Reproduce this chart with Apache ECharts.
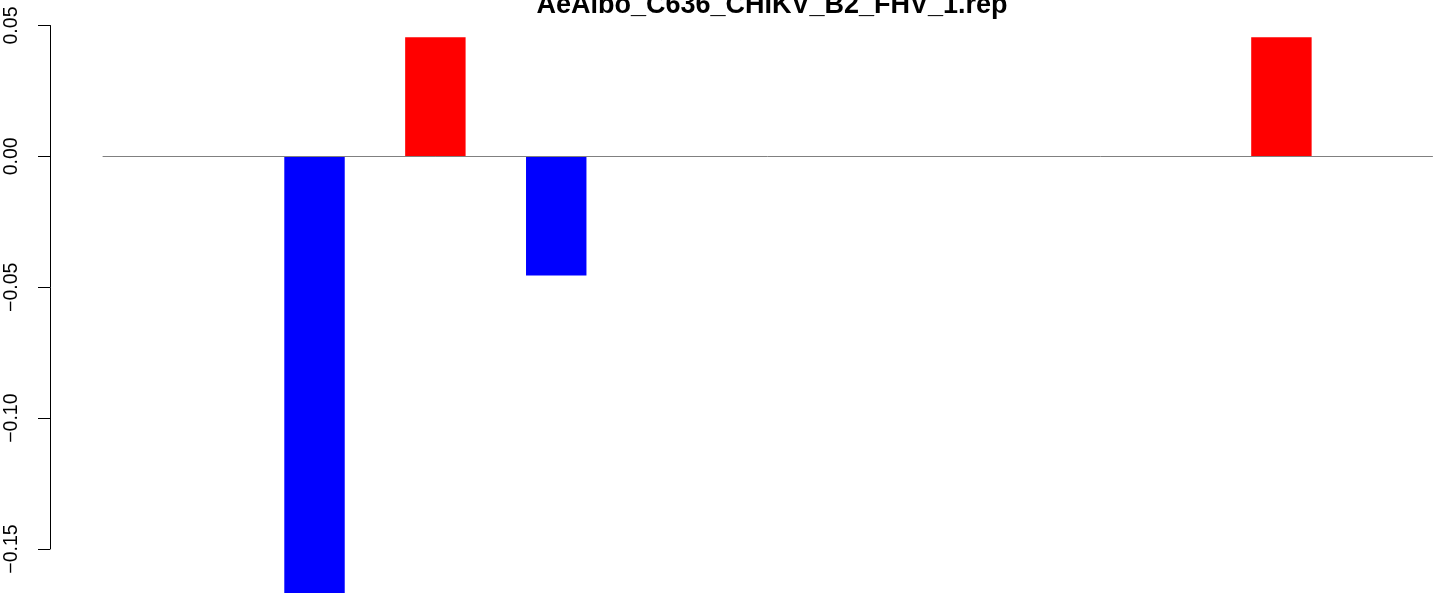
<!DOCTYPE html>
<html>
<head>
<meta charset="utf-8">
<script src="https://cdn.jsdelivr.net/npm/echarts@6/dist/echarts.min.js"></script>
<style>
html,body{margin:0;padding:0;background:#fff;}
#chart{width:1444px;height:593px;}
</style>
</head>
<body>
<div id="chart"></div>
<script>
const titleText = "AeAlbo_C636_CHIKV_B2_FHV_1.rep";
const categories = ["1","2","3","4","5","6","7","8","9","10","11"];
const values = [0, -0.17, 0.0455, -0.0455, 0, 0, 0, 0, 0, 0.0455, 0];
const yTicks = [-0.15, -0.10, -0.05, 0.00, 0.05];

const chart = echarts.init(document.getElementById('chart'), null, {renderer:'canvas'});
const fontFam = '"Liberation Sans", Arial, Helvetica, sans-serif';
chart.setOption({
  animation: false,
  backgroundColor: '#ffffff',
  title: {
    text: titleText,
    left: 767, textAlign: 'center',
    top: -13,
    textStyle: {fontFamily: fontFam, fontWeight: 'bold', fontSize: 27, color: '#000'}
  },
  grid: {left: 103, right: 11.5, top: 25.5, bottom: 44, containLabel: false},
  xAxis: {
    type: 'category',
    data: categories,
    z: 5,
    axisLine: {show: true, onZero: true, lineStyle: {color: '#808080', width: 1}},
    axisTick: {show: false},
    axisLabel: {show: false},
    splitLine: {show: false}
  },
  yAxis: {
    type: 'value',
    min: yTicks[0], max: yTicks[yTicks.length-1], interval: 0.05,
    offset: 53,
    axisLine: {show: true, lineStyle: {color: '#000', width: 1}},
    axisTick: {show: true, length: 12, lineStyle: {color: '#000', width: 1}},
    splitLine: {show: false},
    axisLabel: {
      rotate: 90, margin: 28,
      fontFamily: fontFam, fontSize: 19.5, color: '#000',
      formatter: function(v){ const s = Math.abs(v).toFixed(2); return (v < -1e-9 ? '\u2212' : '') + s; }
    }
  },
  series: [
    {type: 'bar', data: categories.map(() => null), barGap: '0%', barCategoryGap: '0%', silent: true},
    {
      type: 'bar', data: values, barGap: '0%', barCategoryGap: '0%', clip: false,
      itemStyle: {color: function(p){ return p.value > 0 ? '#ff0000' : '#0000ff'; }}
    }
  ]
});
</script>
</body>
</html>
